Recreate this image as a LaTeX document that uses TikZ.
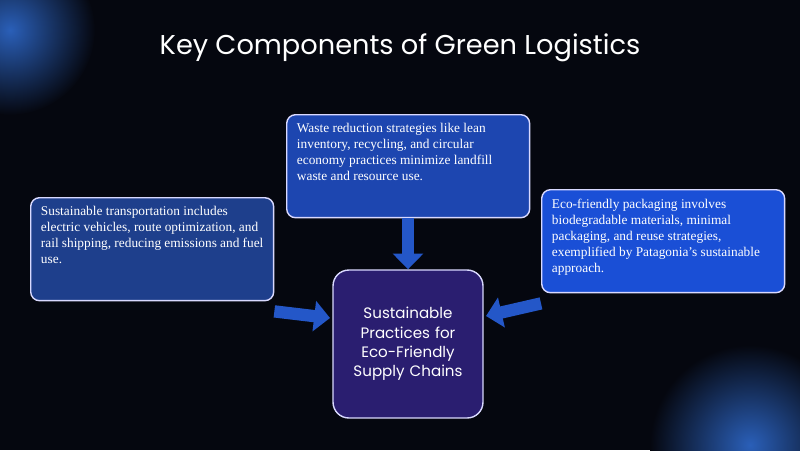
\documentclass[tikz,border=0pt]{standalone}
\usepackage{fontspec}
\setmainfont{Liberation Serif}
\setsansfont{Poppins}
\usetikzlibrary{positioning,arrows.meta}
\definecolor{bgdark}{HTML}{05070F}
\definecolor{glowblue}{HTML}{2A5FB8}
\definecolor{leftblue}{HTML}{1E3F8C}
\definecolor{topblue}{HTML}{1D46B0}
\definecolor{rightblue}{HTML}{1A4FD6}
\definecolor{hubpurple}{HTML}{2A1E70}
\definecolor{arrowblue}{HTML}{2457C8}
\newcommand{\infotext}[1]{\begin{minipage}[t][1.7cm]{4.45cm}\raggedright #1\end{minipage}}
\tikzset{
  info/.style={draw=white!85!blue,line width=0.8pt,rounded corners=5pt,
    minimum width=4.86cm,minimum height=2.06cm,
    inner xsep=5pt,inner ysep=4pt,text=white,font=\fontsize{7.6}{9.1}\selectfont},
  hub/.style={draw=white!85!blue,line width=0.8pt,rounded corners=9pt,
    fill=hubpurple,minimum width=3cm,minimum height=2.96cm,text width=2.6cm,
    align=center,text=white,font=\sffamily\fontsize{8.6}{11}\selectfont},
  flow/.style={arrowblue,line width=7pt,-{Triangle[length=9pt,width=17pt]}}
}
\begin{document}
\begin{tikzpicture}[x=0.02cm,y=-0.02cm]
  \fill[bgdark] (0,0) rectangle (800,450);
  \begin{scope}
    \clip (0,0) rectangle (800,450);
    \shade[inner color=glowblue,outer color=bgdark] (10,30) circle (85);
    \shade[inner color=glowblue,outer color=bgdark] (750,445) circle (100);
  \end{scope}
  \useasboundingbox (0,0) rectangle (800,450);

  \node[text=white,font=\sffamily\fontsize{15.5}{18}\selectfont] (title) at (400,48) {Key Components of Green Logistics};

  \node[hub] (hub) at (408,344) {Sustainable Practices for Eco-Friendly Supply Chains};
  \node[info,fill=leftblue,anchor=north west] (transport) at (30,197) {\infotext{Sustainable transportation includes electric vehicles, route optimization, and rail shipping, reducing emissions and fuel use.}};
  \node[info,fill=topblue,anchor=north west] (waste) at (286,114) {\infotext{Waste reduction strategies like lean inventory, recycling, and circular economy practices minimize landfill waste and resource use.}};
  \node[info,fill=rightblue,anchor=north west] (packaging) at (541,189) {\infotext{Eco-friendly packaging involves biodegradable materials, minimal packaging, and reuse strategies, exemplified by Patagonia's sustainable approach.}};

  \coordinate (inL) at (330,318);
  \coordinate (inR) at (486,316);
  \draw[flow] (waste.south -| hub.north) -- (hub.north);
  \draw[flow] ([yshift=-0.2cm]transport.south east) -- (inL);
  \draw[flow] ([yshift=-0.2cm]packaging.south west) -- (inR);
\end{tikzpicture}
\end{document}
